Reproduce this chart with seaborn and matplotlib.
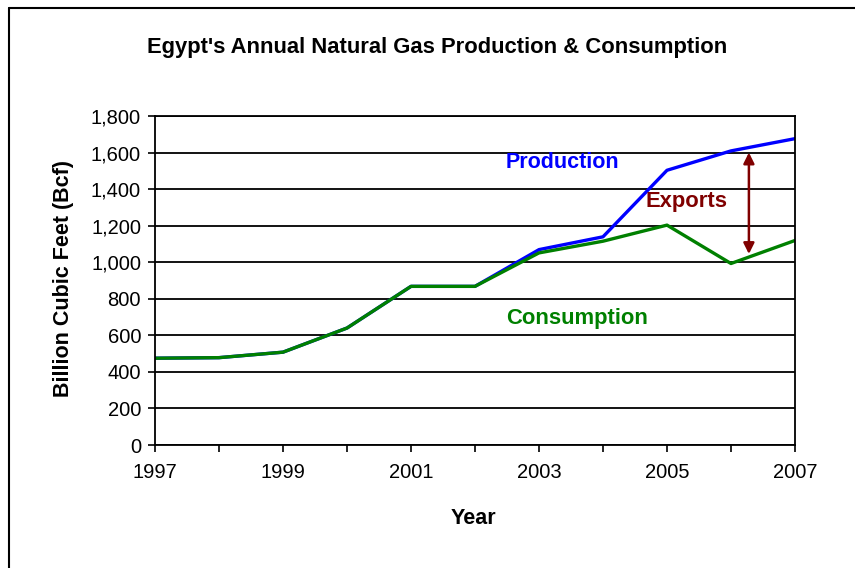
import pandas as pd
import matplotlib.pyplot as plt
import seaborn as sns
from matplotlib.lines import Line2D

# Data (Bcf)
years = [1997, 1998, 1999, 2000, 2001, 2002, 2003, 2004, 2005, 2006, 2007]
production = [475, 478, 508, 640, 868, 868, 1069, 1139, 1503, 1609, 1676]
consumption = [475, 478, 508, 640, 868, 868, 1051, 1115, 1203, 993, 1119]

df = pd.DataFrame({'Year': years, 'Production': production, 'Consumption': consumption})

sns.set_style('white')
plt.rcParams['font.family'] = ['Liberation Sans', 'DejaVu Sans']
plt.rcParams['text.color'] = 'black'
plt.rcParams['axes.labelcolor'] = 'black'
plt.rcParams['xtick.color'] = 'black'
plt.rcParams['ytick.color'] = 'black'

fig = plt.figure(figsize=(8.55, 5.68), dpi=100)
ax = fig.add_axes([0.1813, 0.2165, 0.7485, 0.5793])

# Production first so consumption sits on top where they overlap
sns.lineplot(data=df, x='Year', y='Production', color='#0000ff', linewidth=2.4, ax=ax)
sns.lineplot(data=df, x='Year', y='Consumption', color='#008000', linewidth=2.4, ax=ax)

ax.set_xlim(1997, 2007)
ax.set_ylim(0, 1800)
ax.set_xticks(range(1997, 2008))
ax.set_xticklabels([str(y) if (y - 1997) % 2 == 0 else '' for y in range(1997, 2008)])
ax.set_yticks(range(0, 1801, 200))
ax.set_yticklabels([f'{v:,}' for v in range(0, 1801, 200)])
ax.yaxis.grid(True, color='black', linewidth=1.3)
ax.set_axisbelow(True)
for s in ax.spines.values():
    s.set_color('black')
    s.set_linewidth(1.3)
ax.tick_params(axis='both', bottom=True, left=True, direction='out', length=5,
               width=1.2, color='black', labelsize=14.5, pad=5)
ax.tick_params(axis='x', pad=8)

ax.set_xlabel('Year', fontsize=15.5, fontweight='bold')
ax.set_ylabel('Billion Cubic Feet (Bcf)', fontsize=15.5, fontweight='bold')
ax.xaxis.set_label_coords(0.498, -0.19)
ax.yaxis.set_label_coords(-0.127, 0.505)
fig.text(0.511, 0.917, "Egypt's Annual Natural Gas Production & Consumption",
         ha='center', va='center', fontsize=15.8, fontweight='bold')

# annotations
ax.text(2003.37, 1545, 'Production', color='#0000ff', fontsize=15.5, fontweight='bold',
        ha='center', va='center')
ax.text(2003.6, 690, 'Consumption', color='#008000', fontsize=15.8, fontweight='bold',
        ha='center', va='center')
ax.text(2005.3, 1330, 'Exports', color='#800000', fontsize=15.8, fontweight='bold',
        ha='center', va='center')
ax.annotate('', xy=(2006.28, 1600), xytext=(2006.28, 1045),
            arrowprops=dict(arrowstyle='<|-|>', color='#800000', lw=1.8,
                            mutation_scale=16, shrinkA=0, shrinkB=0))

# outer frame (top and left edges as in the reference)
fig.add_artist(Line2D([0.0105, 1.0], [0.986, 0.986], color='black', linewidth=1.5,
                      transform=fig.transFigure))
fig.add_artist(Line2D([0.0105, 0.0105], [0.0, 0.986], color='black', linewidth=1.5,
                      transform=fig.transFigure))

fig.savefig('out.png', dpi=100)
